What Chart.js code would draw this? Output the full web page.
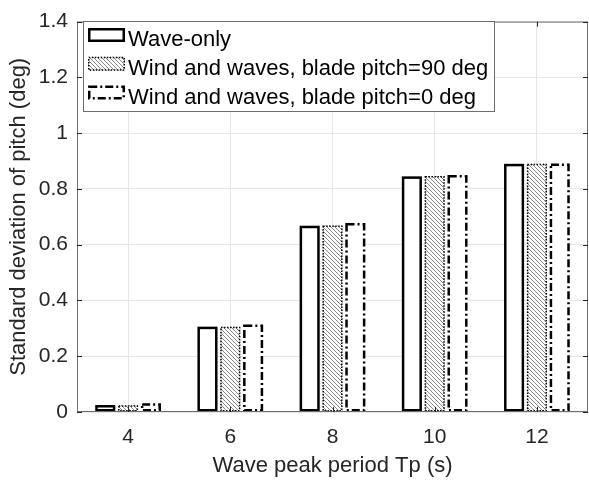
<!DOCTYPE html>
<html>
<head>
<meta charset="utf-8">
<script src="https://cdn.jsdelivr.net/npm/chart.js@4.4.1/dist/chart.umd.min.js"></script>
<style>
  html, body { margin: 0; padding: 0; background: #fff; }
  #wrap { width: 589px; height: 482px; }
</style>
</head>
<body>
<div id="wrap"><canvas id="chart" width="589" height="482"></canvas></div>
<script>
// data
const categories = ['4', '6', '8', '10', '12'];
const waveOnly = [0.025, 0.306, 0.668, 0.845, 0.890];
const windPitch90 = [0.024, 0.306, 0.669, 0.846, 0.890];
const windPitch0 = [0.031, 0.314, 0.678, 0.850, 0.891];
const seriesLabels = ['Wave-only', 'Wind and waves, blade pitch=90 deg', 'Wind and waves, blade pitch=0 deg'];
const yTicks = [0, 0.2, 0.4, 0.6, 0.8, 1, 1.2, 1.4];

const FONT = '"Liberation Sans", Arial, Helvetica, sans-serif';
const AXIS_COLOR = '#6e6e6e';
const TEXT_COLOR = '#262626';

// gray diagonal hatch used for the blade pitch=90 series
function makeHatch() {
    const tile = document.createElement('canvas');
    tile.width = 4;
    tile.height = 4;
    const t = tile.getContext('2d');
    t.fillStyle = '#ffffff';
    t.fillRect(0, 0, 4, 4);
    t.fillStyle = '#8a8a8a';
    for (let i = 0; i < 4; i++) t.fillRect(i, i, 1, 1);
    return document.getElementById('chart').getContext('2d').createPattern(tile, 'repeat');
}
const hatch = makeHatch();

const seriesStyles = [
    { fill: '#ffffff', dash: [], width: 2.5 },
    { fill: hatch, dash: [1.5, 1.5], width: 1.5 },
    { fill: '#ffffff', dash: [8, 3, 2, 3], width: 2.5 }
];

function strokeBox(ctx, left, top, w, h, style) {
    const half = style.width / 2;
    ctx.save();
    ctx.lineWidth = style.width;
    ctx.setLineDash(style.dash);
    ctx.strokeStyle = '#000000';
    ctx.strokeRect(left + half, top + half, w - style.width, h - style.width);
    ctx.restore();
}

// bar outlines (dashed / dotted), axes box and inward ticks like MATLAB
const edgesPlugin = {
    id: 'edges',
    afterDatasetsDraw(chart) {
        const ctx = chart.ctx;
        chart.data.datasets.forEach((ds, i) => {
            const style = seriesStyles[i];
            chart.getDatasetMeta(i).data.forEach(bar => {
                const left = bar.x - bar.width / 2;
                const top = Math.min(bar.y, bar.base);
                const h = Math.abs(bar.base - bar.y);
                strokeBox(ctx, left, top, bar.width, h, style);
            });
        });

        const { left, right, top, bottom } = chart.chartArea;
        const xs = chart.scales.x, ys = chart.scales.y;
        ctx.save();
        ctx.strokeStyle = AXIS_COLOR;
        ctx.lineWidth = 1;
        ctx.strokeRect(left + 0.5, top + 0.5, right - left - 1, bottom - top - 1);
        ctx.strokeStyle = '#262626';
        ctx.beginPath();
        yTicks.forEach(v => {
            const py = Math.round(ys.getPixelForValue(v)) + 0.5;
            ctx.moveTo(left, py); ctx.lineTo(left + 5, py);
            ctx.moveTo(right, py); ctx.lineTo(right - 5, py);
        });
        categories.forEach((c, i) => {
            const px = Math.round(xs.getPixelForValue(i)) + 0.5;
            ctx.moveTo(px, bottom); ctx.lineTo(px, bottom - 5);
            ctx.moveTo(px, top); ctx.lineTo(px, top + 5);
        });
        ctx.stroke();
        ctx.restore();
    },
    afterDraw(chart) {
        // legend box in the upper left corner
        const ctx = chart.ctx;
        const bx = 83, by = 21, bw = 412, bh = 91;
        ctx.save();
        ctx.fillStyle = '#ffffff';
        ctx.fillRect(bx, by, bw, bh);
        ctx.strokeStyle = AXIS_COLOR;
        ctx.lineWidth = 1;
        ctx.strokeRect(bx + 0.5, by + 0.5, bw - 1, bh - 1);
        ctx.font = '22px ' + FONT;
        ctx.textBaseline = 'middle';
        chart.data.datasets.forEach((ds, i) => {
            const cy = by + 14 + i * 28.8;
            const iconH = 14;
            ctx.fillStyle = seriesStyles[i].fill;
            ctx.fillRect(88, cy - iconH / 2, 37, iconH);
            strokeBox(ctx, 88, cy - iconH / 2, 37, iconH, seriesStyles[i]);
            ctx.fillStyle = '#000000';
            ctx.fillText(ds.label, 128, cy + 5);
        });
        ctx.restore();
    }
};

new Chart(document.getElementById('chart'), {
    type: 'bar',
    data: {
        labels: categories,
        datasets: [waveOnly, windPitch90, windPitch0].map((vals, i) => ({
            label: seriesLabels[i],
            data: vals,
            backgroundColor: seriesStyles[i].fill,
            borderWidth: 0,
            categoryPercentage: 0.67,
            barPercentage: 0.88
        }))
    },
    options: {
        responsive: false,
        animation: false,
        layout: { padding: { top: 14, right: 1, left: 0, bottom: 0 } },
        plugins: {
            legend: { display: false },
            tooltip: { enabled: false }
        },
        scales: {
            x: {
                offset: true,
                grid: { color: '#e6e6e6', offset: false, drawTicks: false },
                border: { display: false },
                ticks: { color: TEXT_COLOR, font: { family: FONT, size: 21 }, padding: 13 },
                title: {
                    display: true,
                    text: 'Wave peak period Tp (s)',
                    color: TEXT_COLOR,
                    font: { family: FONT, size: 22 },
                    padding: { top: 0, bottom: 3 }
                },
                afterFit(scale) { scale.height = 70; }
            },
            y: {
                min: 0,
                max: 1.4,
                grid: { color: '#e6e6e6', drawTicks: false },
                border: { display: false },
                ticks: {
                    stepSize: 0.2,
                    color: TEXT_COLOR,
                    font: { family: FONT, size: 21 },
                    padding: 9,
                    callback: v => String(+v.toFixed(1))
                },
                title: {
                    display: true,
                    text: 'Standard deviation of pitch (deg)',
                    color: TEXT_COLOR,
                    font: { family: FONT, size: 22 },
                    padding: { top: 6, bottom: 0 }
                },
                afterFit(scale) { scale.width = 77; }
            }
        }
    },
    plugins: [edgesPlugin]
});
</script>
</body>
</html>
